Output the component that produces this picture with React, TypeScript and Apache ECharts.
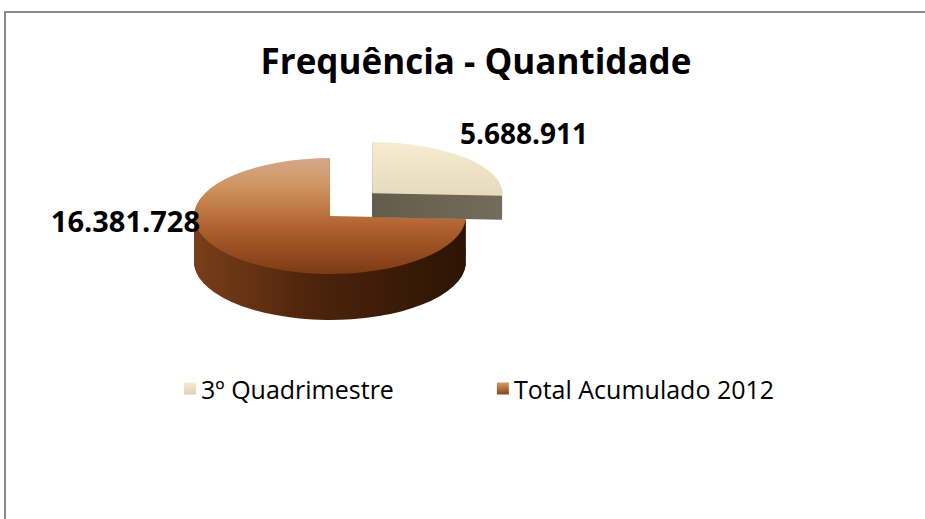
import React, { useEffect, useRef } from 'react';
import * as echarts from 'echarts';

const chartTitle = 'Frequência - Quantidade';
const categories = ['3º Quadrimestre', 'Total Acumulado 2012'];
const values = [5688911, 16381728];

const FONT = '"Open Sans", "Noto Sans", sans-serif';

const fmt = (n: number) => String(n).replace(/\B(?=(\d{3})+(?!\d))/g, '.');

const topFills = [
  new echarts.graphic.LinearGradient(0, 0, 0, 1, [
    { offset: 0, color: '#f8ebcf' },
    { offset: 1, color: '#e4dabd' },
  ]),
  new echarts.graphic.LinearGradient(0, 0, 0, 1, [
    { offset: 0, color: '#d4a88c' },
    { offset: 0.25, color: '#cf945e' },
    { offset: 0.6, color: '#b0612f' },
    { offset: 1, color: '#7e3a14' },
  ]),
];
const sideFills = [
  new echarts.graphic.LinearGradient(0, 0, 1, 0, [
    { offset: 0, color: '#635b4b' },
    { offset: 1, color: '#736b5b' },
  ]),
  new echarts.graphic.LinearGradient(0, 0, 1, 0, [
    { offset: 0, color: '#7a3e1a' },
    { offset: 0.45, color: '#4c230b' },
    { offset: 1, color: '#2c1404' },
  ]),
];
const legendFills = [
  new echarts.graphic.LinearGradient(0, 0, 0, 1, [
    { offset: 0, color: '#f8ebcf' },
    { offset: 1, color: '#ddd2b2' },
  ]),
  new echarts.graphic.LinearGradient(0, 0, 0, 1, [
    { offset: 0, color: '#d49a6a' },
    { offset: 1, color: '#8a4318' },
  ]),
];

export default function App() {
  const ref = useRef<HTMLDivElement>(null);
  useEffect(() => {
    document.body.style.margin = '0';
    document.body.style.overflow = 'hidden';
    document.documentElement.style.overflow = 'hidden';
    if (!ref.current) return;
    const chart = echarts.init(ref.current, undefined, { renderer: 'svg' });
    const total = values.reduce((a, b) => a + b, 0);
    const cx = 330;
    const cy = 216;
    const rx = 136;
    const ry = 58;
    const depth = 46;
    const sY = ry / rx;

    const makeRender = (idx: number) => (params: any, api: any) => {
      const v = api.value(0) as number;
      let cum = 0;
      for (let j = 0; j < idx; j++) cum += values[j];
      const start = -Math.PI / 2 + (2 * Math.PI * cum) / total;
      const end = start + (2 * Math.PI * v) / total;
      let ox = 0;
      let oy = 0;
      let r = rx;
      let sy = sY;
      if (idx === 0) {
        const mid = (start + end) / 2;
        ox = 60 * Math.cos(mid) * 0.97;
        oy = 60 * Math.sin(mid) * 0.55;
        r = rx - 6;
        sy = (ry - 7) / r;
      }
      const d = idx === 0 ? 24 : depth;
      const children: any[] = [];
      for (let k = d; k >= 1; k--) {
        children.push({
          type: 'sector',
          x: cx + ox,
          y: cy + oy + k,
          scaleY: sy,
          shape: { cx: 0, cy: 0, r, r0: 0, startAngle: start, endAngle: end, clockwise: true },
          style: { fill: sideFills[idx] },
        });
      }
      children.push({
        type: 'sector',
        x: cx + ox,
        y: cy + oy,
        scaleY: sy,
        shape: { cx: 0, cy: 0, r, r0: 0, startAngle: start, endAngle: end, clockwise: true },
        style: { fill: topFills[idx] },
      });
      children.push({
        type: 'text',
        x: idx === 0 ? 460 : 200,
        y: idx === 0 ? 133 : 220,
        style: {
          text: fmt(v),
          fill: '#000',
          fontFamily: FONT,
          fontWeight: 'bold',
          fontSize: idx === 0 ? 28 : 29,
          align: idx === 0 ? 'left' : 'right',
          verticalAlign: 'middle',
        },
      });
      return { type: 'group', children };
    };

    const series = categories.map((name, i) => ({
      type: 'custom',
      name,
      coordinateSystem: 'none',
      z: i === 0 ? 3 : 2,
      silent: true,
      itemStyle: { color: legendFills[i] },
      data: [values[i]],
      renderItem: makeRender(i),
    }));

    chart.setOption({
      animation: false,
      backgroundColor: '#fff',
      title: {
        text: chartTitle,
        left: 471,
        textAlign: 'center',
        top: 38,
        textStyle: { fontFamily: FONT, fontWeight: 'bold', fontSize: 35, color: '#000' },
      },
      legend: {
        left: 179,
        top: 371,
        icon: 'rect',
        itemWidth: 12,
        itemHeight: 12,
        itemGap: 103,
        selectedMode: false,
        textStyle: { fontFamily: FONT, fontSize: 25, color: '#000', padding: [0, 0, 0, 0] },
        data: categories.map((name, i) => ({ name, itemStyle: { color: legendFills[i] } })),
      },
      graphic: [
        {
          type: 'polyline',
          shape: { points: [[5, 519], [5, 12], [925, 12]] },
          style: { stroke: '#8a8a8a', lineWidth: 2, fill: 'none' },
          silent: true,
        },
      ],
      series,
    });
    return () => chart.dispose();
  }, []);
  return <div ref={ref} style={{ width: 925, height: 519, overflow: 'hidden' }} />;
}
